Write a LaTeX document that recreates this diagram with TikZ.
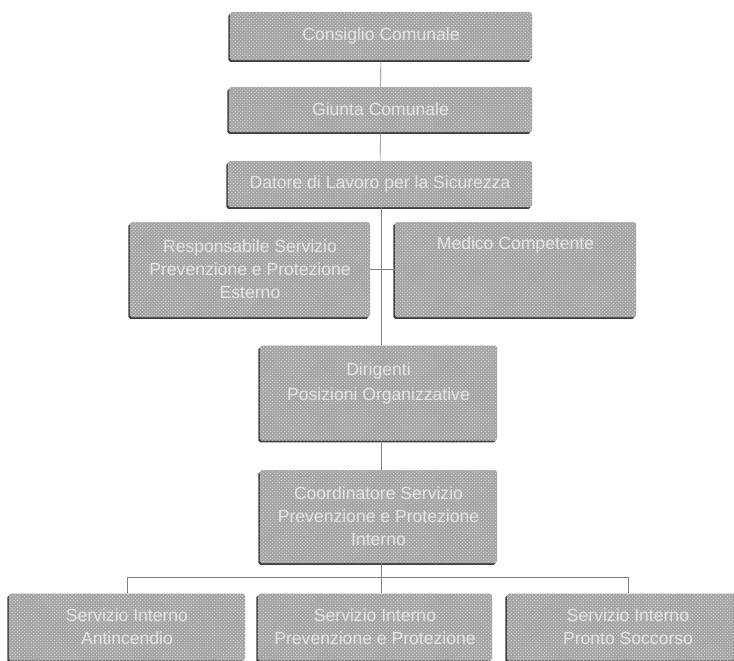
\documentclass[tikz,border=0pt]{standalone}
\usepackage{fontspec}
\setmainfont{Liberation Sans}
\usetikzlibrary{shadows,patterns}

\begin{document}
\begin{tikzpicture}[x=0.03cm, y=-0.03cm,
    box/.style={rectangle, rounded corners=1.5pt, fill=black!36,
        postaction={pattern=crosshatch dots, pattern color=black!10},
        drop shadow={shadow xshift=-1.3pt, shadow yshift=-1.6pt, fill=black!75, opacity=1},
        text=black!10, align=center, inner sep=0pt,
        font=\fontsize{15}{19.5}\selectfont},
    line/.style={draw=black!50, line width=0.5pt}]
    \useasboundingbox (0,0) rectangle (734,660);
    % top of the chart
    \node[box, minimum width=9.06cm, minimum height=1.44cm] (cons) at (381,36) {Consiglio Comunale};
    \node[box, minimum width=9.09cm, minimum height=1.35cm] (giunta) at (380.5,109.5) {Giunta Comunale};
    \node[box, minimum width=9.12cm, minimum height=1.38cm] (datore) at (380,184) {Datore di Lavoro per la Sicurezza};
    % staff boxes
    \node[box, minimum width=7.2cm, minimum height=2.85cm] (resp) at (250,269.5) {Responsabile Servizio\\Prevenzione e Protezione\\Esterno};
    \node[box, minimum width=7.23cm, minimum height=2.85cm, text height=0.81cm, text depth=2.04cm] (medico) at (515.5,269.5) {Medico Competente};
    % middle
    \node[box, minimum width=7.11cm, minimum height=2.85cm] (dir) at (378.5,393) {Dirigenti\\[2pt]Posizioni Organizzative\\[0pt]};
    \node[box, minimum width=7.11cm, minimum height=2.79cm] (coord) at (378.5,516.5) {Coordinatore Servizio\\Prevenzione e Protezione\\Interno};
    % bottom row
    \node[box, minimum width=7.08cm, minimum height=2.01cm] (anti) at (127,627) {Servizio Interno\\Antincendio};
    \node[box, minimum width=7.02cm, minimum height=2.01cm] (prev) at (375,627) {Servizio Interno\\Prevenzione e Protezione};
    \node[box, minimum width=7.26cm, minimum height=2.01cm] (pronto) at (628,627) {Servizio Interno\\Pronto Soccorso};
    \coordinate (bus) at (381,577);
    \draw[line] (cons) -- (giunta);
    \draw[line] (giunta) -- (datore);
    \draw[line] (datore.south -| bus) -- (dir.north -| bus);
    \draw[line] (resp) -- (medico);
    \draw[line] (dir.south -| bus) -- (coord.north -| bus);
    \draw[line] (coord.south -| bus) -- (bus);
    \draw[line] (anti.north) |- (bus) -| (pronto.north);
    \draw[line] (bus) -- (prev.north -| bus);
\end{tikzpicture}
\end{document}
